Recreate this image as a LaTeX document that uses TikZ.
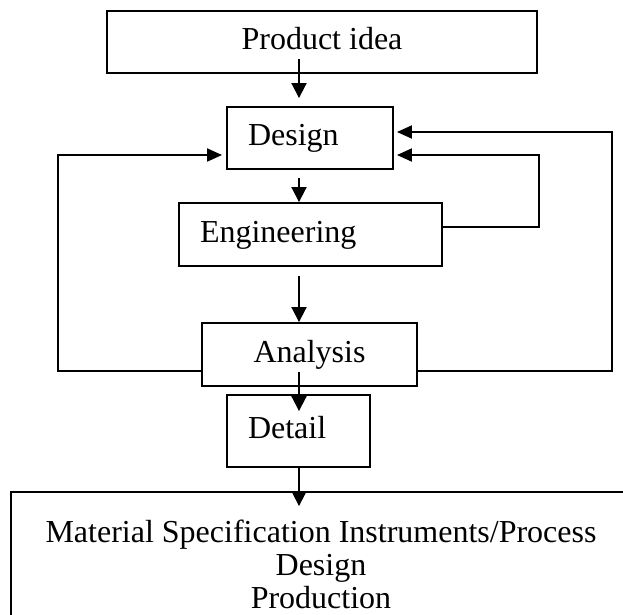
\documentclass[tikz,border=0pt]{standalone}
\usepackage{fontspec}
\setmainfont{Liberation Serif}
\usetikzlibrary{arrows.meta}
\begin{document}
\begin{tikzpicture}[x=1pt,y=-1pt,
  every node/.style={font=\fontsize{32}{33}\selectfont},
  box/.style={draw, line width=1.9pt, inner sep=0pt, text height=22pt, text depth=7pt},
  leftbox/.style={box, align=left, inner xsep=21pt},
  arr/.style={line width=1.9pt, -{Triangle[length=15pt,width=15pt]}},
  loop/.style={line width=1.9pt, -{Triangle[length=15pt,width=13pt]}}]
\useasboundingbox (0,0) rectangle (623,614);
\clip (0,0) rectangle (623,614);

% stages
\node[box, minimum width=430pt, minimum height=62pt] (idea) at (322,42) {Product idea};
\node[leftbox, text width=124pt, minimum height=62pt] (design) at (310,138) {Design};
\node[leftbox, text width=221pt, minimum height=63pt] (eng) at (310.5,234.5) {Engineering};
\node[box, minimum width=215pt, minimum height=63pt] (ana) at (309.5,354.5) {Analysis};
\node[leftbox, text width=101pt, minimum height=72pt] (det) at (298.5,431) {Detail};
\node[draw, line width=1.9pt, align=center, minimum width=620pt, minimum height=144pt, inner sep=0pt]
  (mat) at (321,564) {Material Specification Instruments/Process\\Design\\Production};

% main flow
\coordinate (col) at (299,0);
\draw[arr, shorten <=-15pt, shorten >=8pt] (idea.south -| col) -- (design.north -| col);
\draw[arr, shorten <=8pt] (design.south -| col) -- (eng.north -| col);
\draw[arr, shorten <=9pt] (eng.south -| col) -- (ana.north -| col);
\draw[arr, shorten <=-15pt, shorten >=-17pt] (ana.south -| col) -- (det.north -| col);
\draw[arr, shorten >=-15pt] (det.south -| col) -- (mat.north -| col);

% feedback loops
\draw[loop, shorten >=3pt] ([yshift=7.5pt]eng.east) -- ++(96,0) |- ([yshift=-17pt]design.east);
\draw[loop, shorten >=3pt] ([yshift=-16.5pt]ana.east) -- ++(194,0) |- ([yshift=6pt]design.east);
\draw[loop, shorten >=4pt] ([yshift=-16.5pt]ana.west) -- ++(-143,0) |- ([yshift=-17pt]design.west);
\end{tikzpicture}
\end{document}
